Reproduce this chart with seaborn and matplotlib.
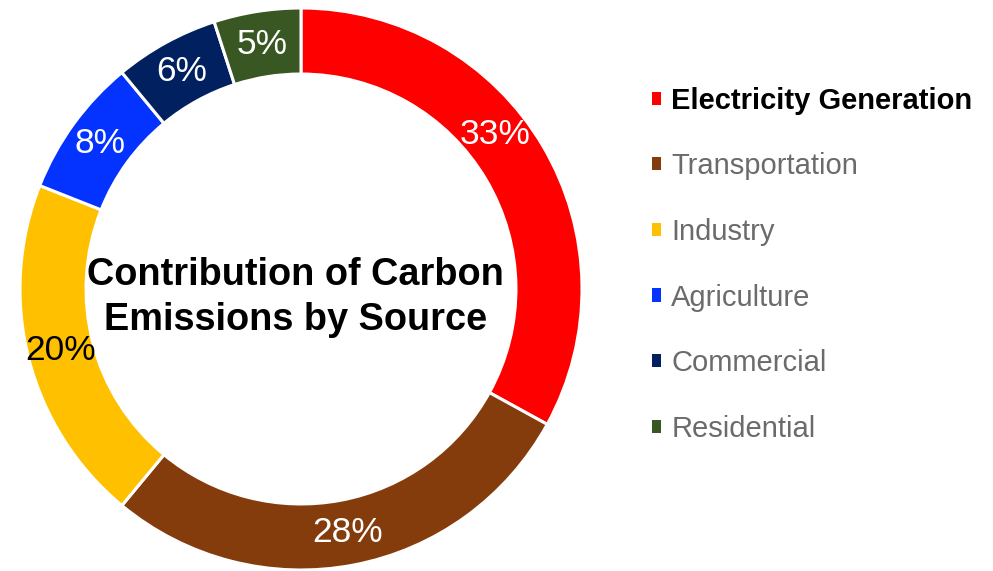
import numpy as np
import matplotlib
matplotlib.use("Agg")
import matplotlib.pyplot as plt
import seaborn as sns

# ---- data ----
sources = ["Electricity Generation", "Transportation", "Industry",
           "Agriculture", "Commercial", "Residential"]
shares = [33, 28, 20, 8, 6, 5]
slice_colors = ["#FF0000", "#843C0C", "#FFC000", "#0433FF", "#002060", "#385723"]
label_colors = ["white", "white", "black", "white", "white", "white"]
title_text = "Contribution of Carbon\nEmissions by Source"

sns.set_theme(style="white")
plt.rcParams["font.family"] = ["Liberation Sans", "DejaVu Sans"]

palette = sns.color_palette(slice_colors)

fig = plt.figure(figsize=(9.93, 5.71), dpi=100)
W, H = 993, 571
cx, cy, R = 301, 289, 281
ax = fig.add_axes([(cx - R) / W, (H - cy - R) / H, 2 * R / W, 2 * R / H])

ring = 0.235
wedges, _ = ax.pie(shares, colors=palette, startangle=90, counterclock=False,
                   radius=1.0, wedgeprops=dict(width=ring, edgecolor="white", linewidth=2.2))
ax.set_xlim(-1, 1)
ax.set_ylim(-1, 1)
ax.axis("off")

# percentage labels at ring centre
angle_nudge = [8.0, 0, 0, 0, 0, 0]
total = sum(shares)
cum = 0
r_lab = 1 - ring / 2
for i, v in enumerate(shares):
    mid = 90 - 360 * (cum + v / 2) / total + angle_nudge[i]
    cum += v
    a = np.deg2rad(mid)
    ax.text(r_lab * np.cos(a), r_lab * np.sin(a), f"{v}%", ha="center", va="center",
            fontsize=25.5, color=label_colors[i])

ax.text(-0.02, -0.03, title_text, ha="center", va="center", fontsize=27.3,
        fontweight="bold", color="black", linespacing=1.3)

leg = fig.legend(wedges, sources, loc="upper left", bbox_to_anchor=(640 / W, 1 - 75 / H),
                 frameon=False, fontsize=21, handlelength=0.32, handleheight=0.32,
                 handletextpad=0.35, labelspacing=1.29, borderaxespad=0)
for i, (t, h) in enumerate(zip(leg.get_texts(), leg.legend_handles)):
    h.set_edgecolor("none")
    if i == 0:
        t.set_color("black")
        t.set_fontweight("bold")
    else:
        t.set_color("#6B6B6B")

fig.savefig("out.png", dpi=100, facecolor="white")
